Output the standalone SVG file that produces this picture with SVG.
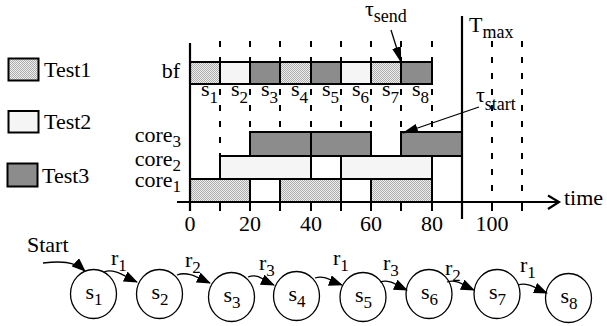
<svg xmlns="http://www.w3.org/2000/svg" width="607" height="326" viewBox="0 0 607 326" font-family="'Liberation Serif', 'Times New Roman', Times, serif">
<defs>
<pattern id="dots" width="2" height="2" patternUnits="userSpaceOnUse">
<rect width="2" height="2" fill="#eeeeee"/>
<rect width="1" height="1" fill="#acacac"/>
<rect x="1" y="1" width="1" height="1" fill="#acacac"/>
</pattern>
<marker id="ah" markerUnits="userSpaceOnUse" markerWidth="14" markerHeight="11" refX="13" refY="5.5" orient="auto">
<path d="M0,0 L14,5.5 L0,11 z" fill="#000"/>
</marker>
<marker id="ahl" markerUnits="userSpaceOnUse" markerWidth="16" markerHeight="10" refX="15" refY="5" orient="auto">
<path d="M0,0.5 L16,5 L0,9.5 z" fill="#000"/>
</marker>
</defs>
<style>
text{font-family:'Liberation Serif','Times New Roman',Times,serif;font-size:22px;fill:#000}
.sub{font-size:17px}
.subw{font-size:18px}
.t1{fill:url(#dots);stroke:#000;stroke-width:2}
.t2{fill:#f5f5f5;stroke:#000;stroke-width:2}
.t3{fill:#8c8c8c;stroke:#000;stroke-width:2}
.dash{stroke:#000;stroke-width:2;stroke-dasharray:6 10;fill:none}
.tick{stroke:#000;stroke-width:2}
.ax{stroke:#000;stroke-width:2.2;fill:none}
.st{fill:#fff;stroke:#000;stroke-width:1.3}
.cn{fill:none;stroke:#000;stroke-width:1.3;marker-end:url(#ah)}
.tn{fill:none;stroke:#000;stroke-width:1.3;marker-end:url(#ahl)}
</style>

<g id="legend">
<g id="legend-test1"><rect class="t1" x="8.5" y="58.5" width="30" height="22"/><text x="44" y="77">Test1</text></g>
<g id="legend-test2"><rect class="t2" x="8.5" y="111" width="30" height="21.5"/><text x="44" y="129">Test2</text></g>
<g id="legend-test3"><rect class="t3" x="7.5" y="163.5" width="30" height="23"/><text x="42" y="183">Test3</text></g>
</g>

<g id="grid">
<line class="dash" x1="220" y1="41" x2="220" y2="202"/>
<line class="dash" x1="250" y1="41" x2="250" y2="202"/>
<line class="dash" x1="280" y1="41" x2="280" y2="202"/>
<line class="dash" x1="311" y1="41" x2="311" y2="202"/>
<line class="dash" x1="341" y1="41" x2="341" y2="202"/>
<line class="dash" x1="371" y1="41" x2="371" y2="202"/>
<line class="dash" x1="401" y1="41" x2="401" y2="202"/>
<line class="dash" x1="432" y1="41" x2="432" y2="202"/>
<line class="dash" x1="492" y1="41" x2="492" y2="202"/>
<line class="dash" x1="522" y1="41" x2="522" y2="202"/>
</g>

<g id="bf">
<text x="180" y="78" text-anchor="end">bf</text>
<rect class="t1" x="190" y="62" width="30" height="22"/>
<rect class="t2" x="220" y="62" width="30" height="22"/>
<rect class="t3" x="250" y="62" width="30" height="22"/>
<rect class="t1" x="280" y="62" width="31" height="22"/>
<rect class="t3" x="311" y="62" width="30" height="22"/>
<rect class="t2" x="341" y="62" width="30" height="22"/>
<rect class="t1" x="371" y="62" width="30" height="22"/>
<rect class="t3" x="401" y="62" width="31" height="22"/>
<text x="201" y="96">s<tspan class="sub" dy="7">1</tspan></text>
<text x="231" y="96">s<tspan class="sub" dy="7">2</tspan></text>
<text x="261" y="96">s<tspan class="sub" dy="7">3</tspan></text>
<text x="291" y="96">s<tspan class="sub" dy="7">4</tspan></text>
<text x="322" y="96">s<tspan class="sub" dy="7">5</tspan></text>
<text x="352" y="96">s<tspan class="sub" dy="7">6</tspan></text>
<text x="382" y="96">s<tspan class="sub" dy="7">7</tspan></text>
<text x="412" y="96">s<tspan class="sub" dy="7">8</tspan></text>
</g>

<g id="core3">
<text x="181" y="142" text-anchor="end">core<tspan class="sub" dy="5">3</tspan></text>
<rect class="t3" x="250" y="132" width="61" height="24"/>
<rect class="t3" x="311" y="132" width="60" height="24"/>
<rect class="t3" x="401" y="132" width="61" height="24"/>
</g>
<g id="core2">
<text x="181" y="166" text-anchor="end">core<tspan class="sub" dy="5">2</tspan></text>
<rect class="t2" x="220" y="156" width="91" height="23"/>
<rect class="t2" x="341" y="156" width="91" height="23"/>
</g>
<g id="core1">
<text x="181" y="187" text-anchor="end">core<tspan class="sub" dy="5">1</tspan></text>
<rect class="t1" x="190" y="179" width="60" height="23"/>
<rect class="t1" x="280" y="179" width="61" height="23"/>
<rect class="t1" x="371" y="179" width="61" height="23"/>
</g>

<g id="axes">
<line class="ax" x1="190" y1="43" x2="190" y2="211"/>
<line class="ax" x1="177" y1="202" x2="559" y2="202"/>
<polyline class="ax" points="548,195.5 559,202 548,209"/>
<line class="tick" x1="220" y1="202" x2="220" y2="211"/>
<line class="tick" x1="250" y1="202" x2="250" y2="211"/>
<line class="tick" x1="280" y1="202" x2="280" y2="211"/>
<line class="tick" x1="311" y1="202" x2="311" y2="211"/>
<line class="tick" x1="341" y1="202" x2="341" y2="211"/>
<line class="tick" x1="371" y1="202" x2="371" y2="211"/>
<line class="tick" x1="401" y1="202" x2="401" y2="211"/>
<line class="tick" x1="432" y1="202" x2="432" y2="211"/>
<line class="tick" x1="492" y1="202" x2="492" y2="211"/>
<line class="tick" x1="522" y1="202" x2="522" y2="211"/>
<line class="ax" x1="462" y1="16" x2="462" y2="219"/>
<text x="564" y="205">time</text>
<text x="190" y="231" text-anchor="middle">0</text>
<text x="250" y="231" text-anchor="middle">20</text>
<text x="311" y="231" text-anchor="middle">40</text>
<text x="371" y="231" text-anchor="middle">60</text>
<text x="432" y="231" text-anchor="middle">80</text>
<text x="492" y="231" text-anchor="middle">100</text>
<text x="469" y="32">T<tspan class="subw" dy="6">max</tspan></text>
</g>

<g id="tau-send">
<text x="365" y="16">τ<tspan class="subw" dy="6">send</tspan></text>
</g>
<g id="tau-start">
<text x="476" y="102">τ<tspan class="subw" dy="8">start</tspan></text>
</g>

<g id="states">
<g id="s1"><ellipse class="st" cx="93.5" cy="294" rx="23" ry="24.5"/><text x="94" y="299" text-anchor="middle">s<tspan class="sub" dy="6">1</tspan></text></g>
<g id="s2"><ellipse class="st" cx="159.5" cy="294" rx="23" ry="24.5"/><text x="160" y="299" text-anchor="middle">s<tspan class="sub" dy="6">2</tspan></text></g>
<g id="s3"><ellipse class="st" cx="231.5" cy="297" rx="23" ry="24.5"/><text x="232" y="302" text-anchor="middle">s<tspan class="sub" dy="6">3</tspan></text></g>
<g id="s4"><ellipse class="st" cx="296.5" cy="296" rx="23" ry="24.5"/><text x="297" y="301" text-anchor="middle">s<tspan class="sub" dy="6">4</tspan></text></g>
<g id="s5"><ellipse class="st" cx="363" cy="297" rx="23" ry="24.5"/><text x="363.5" y="302" text-anchor="middle">s<tspan class="sub" dy="6">5</tspan></text></g>
<g id="s6"><ellipse class="st" cx="429" cy="294" rx="23" ry="24.5"/><text x="429.5" y="299" text-anchor="middle">s<tspan class="sub" dy="6">6</tspan></text></g>
<g id="s7"><ellipse class="st" cx="497" cy="294" rx="23" ry="24.5"/><text x="497.5" y="299" text-anchor="middle">s<tspan class="sub" dy="6">7</tspan></text></g>
<g id="s8"><ellipse class="st" cx="568.5" cy="298" rx="23" ry="24.5"/><text x="569" y="303" text-anchor="middle">s<tspan class="sub" dy="6">8</tspan></text></g>
</g>

<g id="labels">
<text x="27" y="252">Start</text>
<text x="111" y="265">r<tspan class="sub" dy="6">1</tspan></text>
<text x="185" y="267">r<tspan class="sub" dy="6">2</tspan></text>
<text x="259" y="270">r<tspan class="sub" dy="6">3</tspan></text>
<text x="333" y="265">r<tspan class="sub" dy="6">1</tspan></text>
<text x="383" y="270">r<tspan class="sub" dy="6">3</tspan></text>
<text x="445" y="275">r<tspan class="sub" dy="6">2</tspan></text>
<text x="520" y="272">r<tspan class="sub" dy="6">1</tspan></text>
</g>

<g id="connectors">
<path class="tn" d="M391,30 L401,62"/>
<path class="tn" d="M479,107 L403,133"/>
<path class="cn" d="M43,263 C60,261 74,261 85,271"/>
<path class="cn" d="M104,272 C114,268 124,276 137,282"/>
<path class="cn" d="M177,275 C187,271 197,277 210,283"/>
<path class="cn" d="M248,277 C258,273 263,280 274,285"/>
<path class="cn" d="M315,278 C325,275 331,281 342,285"/>
<path class="cn" d="M380,282 C390,279 396,285 407,290"/>
<path class="cn" d="M447,282 C457,279 463,285 474,290"/>
<path class="cn" d="M518,285 C528,282 535,288 547,293"/>
</g>
</svg>
